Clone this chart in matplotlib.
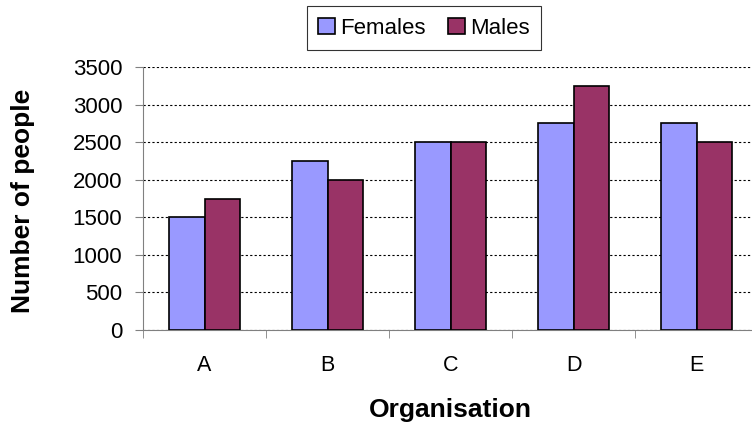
import matplotlib.pyplot as plt
import numpy as np

plt.rcParams['font.family'] = ['Liberation Sans', 'DejaVu Sans']

organisations = ['A', 'B', 'C', 'D', 'E']
females = [1500, 2250, 2500, 2750, 2750]
males = [1750, 2000, 2500, 3250, 2500]

fig = plt.figure(figsize=(7.52, 4.25), dpi=100)
# plot area runs slightly past the right edge, as in the original
ax = fig.add_axes([143 / 752, 1 - 330 / 425, 615 / 752, 263 / 425])

x = np.arange(len(organisations))
w = 0.29
ax.bar(x - w / 2, females, w, color='#9999FF', edgecolor='black', linewidth=1.2, label='Females', zorder=3)
ax.bar(x + w / 2, males, w, color='#993366', edgecolor='black', linewidth=1.2, label='Males', zorder=3)

ax.set_xlim(-0.5, len(organisations) - 0.5)
ax.set_ylim(0, 3500)
ax.set_yticks(range(0, 3501, 500))
ax.set_xticks(x)
ax.set_xticklabels(organisations, fontsize=15.5)
ax.tick_params(axis='x', length=0, pad=18)
ax.set_xticks(np.arange(-0.5, len(organisations)), minor=True)
ax.tick_params(axis='x', which='minor', length=6, color='#808080', direction='out')
ax.tick_params(axis='y', labelsize=16, length=6, color='#808080', direction='out', pad=9)

ax.grid(axis='y', color='black', linestyle=(0, (2, 2)), linewidth=0.8, zorder=0)
for s in ['top', 'right']:
    ax.spines[s].set_visible(False)
for s in ['left', 'bottom']:
    ax.spines[s].set_color('#808080')

ax.set_ylabel('Number of people', fontsize=19, fontweight='bold')
ax.yaxis.set_label_coords(-0.175, 0.49)
ax.set_xlabel('Organisation', fontsize=19, fontweight='bold')
ax.xaxis.set_label_coords(0.5, -0.26)

leg = fig.legend(loc='center', bbox_to_anchor=(424 / 752, 1 - 28 / 425), ncol=2, fontsize=16,
                 frameon=True, fancybox=False, edgecolor='black', handlelength=0.75, handleheight=0.75,
                 handletextpad=0.25, columnspacing=1.0, borderpad=0.5)
leg.get_frame().set_linewidth(0.8)

fig.savefig('out.png', dpi=100)
